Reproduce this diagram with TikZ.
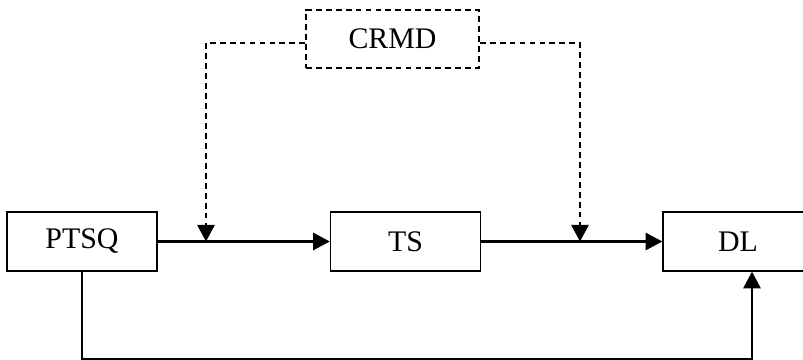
\documentclass[tikz,border=0pt]{standalone}
\usepackage{fontspec}
\setmainfont{Liberation Serif}
\usepackage{tikz}
\usetikzlibrary{arrows.meta, positioning, calc}

\begin{document}
\begin{tikzpicture}[
    node distance=5.2cm,
    blk/.style={rectangle, draw=black, line width=1.3pt, minimum width=4.5cm, minimum height=1.77cm, text centered, font=\fontsize{25.5}{30}\selectfont},
    ctrl/.style={blk, dash pattern=on 5pt off 3.5pt, minimum width=5.19cm, minimum height=1.74cm},
    arrow/.style={line width=1.8pt, -{Triangle[length=0.5cm,width=0.52cm]}},
    darrow/.style={arrow, dash pattern=on 5pt off 3.5pt}
]
    \clip (0,0) rectangle (24.09,10.8);

    \node[blk] (ptsq) at (2.46,3.555) {PTSQ};
    \node[blk, right=5.16cm of ptsq] (ts) {TS};
    \node[blk, right=5.43cm of ts] (dl) {DL};
    \node[ctrl] (crmd) at (11.775,9.63) {CRMD};

    % tapping points on the forward path
    \coordinate (tapa) at (6.18,3.555);
    \coordinate (tapb) at (17.4,3.555);
    \coordinate (fb) at (22.56,0.03);

    \draw[arrow] (ptsq) -- (ts);
    \draw[arrow] (ts) -- (dl);
    \draw[darrow] ([yshift=-0.12cm]crmd.west) -| (tapa);
    \draw[darrow] ([yshift=-0.12cm]crmd.east) -| (tapb);
    \draw[arrow] (ptsq.south) |- (fb) -- (fb |- dl.south);

\end{tikzpicture}
\end{document}
